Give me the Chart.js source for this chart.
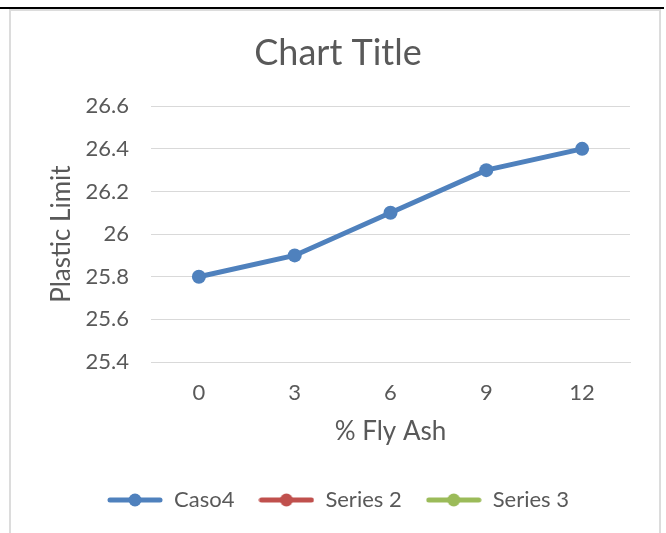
<!DOCTYPE html>
<html>
<head>
<meta charset="utf-8">
<script src="https://cdn.jsdelivr.net/npm/chart.js@4/dist/chart.umd.min.js"></script>
<style>
  body { margin: 0; background: #fff; }
  #wrap { position: relative; width: 666px; height: 533px; overflow: hidden; }
  #topline { position: absolute; left: 0; top: 7px; width: 664px; height: 2px; background: #000; }
  #frame { position: absolute; left: 9px; top: 9px; width: 648px; height: 540px; border: 2px solid #dcdcdc; }
  canvas { position: absolute; left: 0; top: 0; }
</style>
</head>
<body>
<div id="wrap">
  <div id="topline"></div>
  <div id="frame"></div>
  <canvas id="myChart" width="666" height="533"></canvas>
</div>
<script>
const flyAsh = ['0', '3', '6', '9', '12'];
const caso4 = [25.8, 25.9, 26.1, 26.3, 26.4];
const series2 = [];
const series3 = [];

const names = ['Caso4', 'Series 2', 'Series 3'];
const colors = ['#4f81bd', '#c0504d', '#9bbb59'];
const FONT = 'Lato';
const GREY = '#595959';

// legend marker: line with dot in the middle
function legendMarker(color) {
  const c = document.createElement('canvas');
  c.width = 56;
  c.height = 16;
  const g = c.getContext('2d');
  g.strokeStyle = color;
  g.fillStyle = color;
  g.lineWidth = 5;
  g.lineCap = 'round';
  g.beginPath();
  g.moveTo(3, 8);
  g.lineTo(53, 8);
  g.stroke();
  g.beginPath();
  g.arc(28, 8, 6.5, 0, Math.PI * 2);
  g.fill();
  return c;
}
const markers = colors.map(legendMarker);

function mkSet(label, values, color) {
  return {
    label: label,
    data: values,
    borderColor: color,
    backgroundColor: color,
    borderWidth: 5,
    pointRadius: 7,
    pointHoverRadius: 7,
    pointBorderWidth: 0,
    tension: 0
  };
}

const data = {
  labels: flyAsh,
  datasets: [
    mkSet(names[0], caso4, colors[0]),
    mkSet(names[1], series2, colors[1]),
    mkSet(names[2], series3, colors[2])
  ]
};

const config = {
  type: 'line',
  data: data,
  options: {
    responsive: false,
    animation: false,
    layout: {
      padding: { top: 20, left: 46, right: 36, bottom: 12 }
    },
    scales: {
      x: {
        offset: true,
        grid: { display: false, drawTicks: false },
        border: { display: true, color: '#d9d9d9', width: 1 },
        ticks: { color: GREY, font: { family: FONT, size: 22 }, padding: 18 },
        title: {
          display: true,
          text: '% Fly Ash',
          color: GREY,
          font: { family: FONT, size: 26 },
          padding: { top: 0, bottom: 18 }
        },
        afterFit: function (scale) { scale.height = 103; }
      },
      y: {
        min: 25.4,
        max: 26.6,
        grid: { color: '#d9d9d9', lineWidth: 1, drawTicks: false },
        border: { display: false },
        ticks: {
          stepSize: 0.2,
          color: GREY,
          font: { family: FONT, size: 22 },
          padding: 22,
          callback: function (v) { return Math.round(v * 10) / 10; }
        },
        title: {
          display: true,
          text: 'Plastic Limit',
          color: GREY,
          font: { family: FONT, size: 26 },
          padding: { top: 0, bottom: 0 }
        },
        afterFit: function (scale) { scale.width = 105; }
      }
    },
    plugins: {
      title: {
        display: true,
        text: 'Chart Title',
        color: GREY,
        font: { family: FONT, size: 36, weight: 'normal' },
        padding: { top: 12, bottom: 31 }
      },
      legend: {
        position: 'bottom',
        labels: {
          usePointStyle: true,
          pointStyleWidth: 56,
          padding: 24,
          color: GREY,
          font: { family: FONT, size: 22 },
          generateLabels: function (chart) {
            const items = Chart.defaults.plugins.legend.labels.generateLabels(chart);
            items.forEach(function (it, i) { it.pointStyle = markers[i]; });
            return items;
          }
        }
      },
      tooltip: { enabled: false }
    }
  }
};

var myChart = new Chart(document.getElementById('myChart'), config);
</script>
</body>
</html>
